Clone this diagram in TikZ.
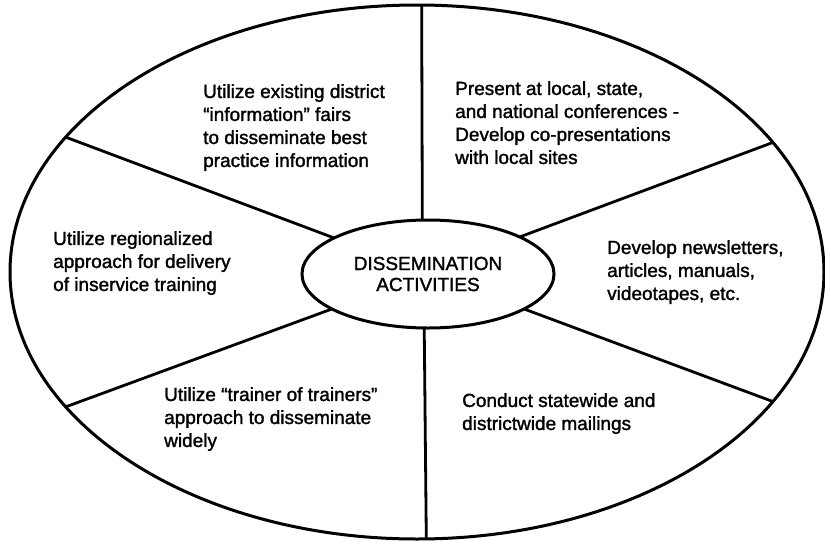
\documentclass[tikz,border=0pt]{standalone}
\usepackage{fontspec}
\setmainfont{Liberation Sans}
\newfontfamily\heavyfont[FakeBold=1.5]{Liberation Sans}
\usetikzlibrary{shapes.geometric}
\begin{document}
\begin{tikzpicture}[x=1pt,y=-1pt,
  ring/.style={draw, ellipse, inner sep=0pt, outer sep=0pt, line width=3pt},
  spoke/.style={line width=2.8pt},
  lbl/.style={anchor=north west, inner sep=0pt, align=left, font=\heavyfont\fontsize{19}{23}\selectfont}]
\useasboundingbox (0,0) rectangle (825,541);
\node[ring, minimum width=814pt, minimum height=534pt] (O) at (417,272) {};
\node[ring, minimum width=252pt, minimum height=108pt, align=center,
      font=\heavyfont\fontsize{19}{21}\selectfont] (C) at (428,274) {DISSEMINATION\\ACTIVITIES};
\draw[spoke] (C.96.3) -- (O.89.6);
\draw[spoke] (C.266.8) -- (O.272.1);
\draw[spoke] (C.159.6) -- (O.159.8);
\draw[spoke] (C.200.0) -- (O.201.3);
\draw[spoke] (C.22.3) -- (O.20.2);
\draw[spoke] (C.340.7) -- (O.340.2);
\node[lbl] (t1) at (203,84) {Utilize existing district\\“information” fairs\\to disseminate best\\practice information};
\node[lbl] (t2) at (455,81) {Present at local, state,\\and national conferences -\\Develop co-presentations\\with local sites};
\node[lbl] (t3) at (53,231) {Utilize regionalized\\approach for delivery\\of inservice training};
\node[lbl] (t4) at (607,240) {Develop newsletters,\\articles, manuals,\\videotapes, etc.};
\node[lbl] (t5) at (164,387) {Utilize “trainer of trainers”\\approach to disseminate\\widely};
\node[lbl] (t6) at (462,393) {Conduct statewide and\\districtwide mailings};
\end{tikzpicture}
\end{document}
